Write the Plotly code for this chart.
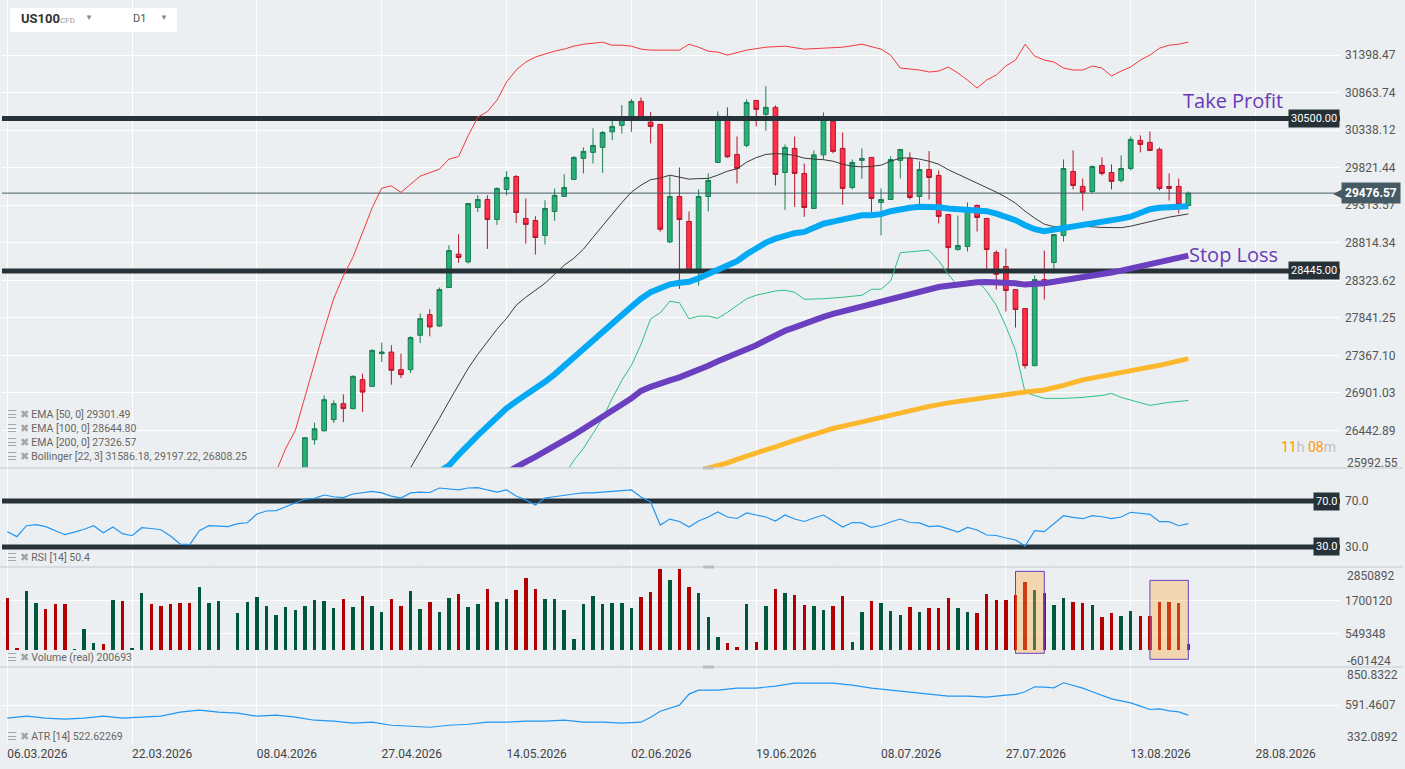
import math
import plotly.graph_objects as go
from plotly.subplots import make_subplots

# ---- values (x = bar slot, 0 = first bar) ----
date_labels = ["06.03.2026", "22.03.2026", "08.04.2026", "27.04.2026", "14.05.2026", "02.06.2026",
               "19.06.2026", "08.07.2026", "27.07.2026", "13.08.2026", "28.08.2026"]
date_slots = [0, 13, 26, 39, 52, 65, 78, 91, 104, 117, 130]
month_slots = [21, 43, 64, 86, 109]

price_ticks = [31398.47, 30863.74, 30338.12, 29821.44, 29313.57, 28814.34,
               28323.62, 27841.25, 27367.10, 26901.03, 26442.89]
price_bottom = 25992.55
price_top = 32200
rsi_levels = [70, 30]
vol_ticks = [1700120, 549348]
vol_range = [-601424, 2850892]
atr_ticks = [591.4607]
atr_range = [332.0892, 850.8322]

take_profit = 30500.00
stop_loss = 28445.00

open_ = [24650, 24480, 24460, 24720, 24800, 24600, 24420, 24230, 24260, 24380,
         24420, 24370, 24610, 24420, 24440, 24720, 24520, 24340, 24160, 23990,
         23820, 24100, 24250, 24400, 24400, 24560, 24760, 24950, 25100, 25260,
         25460, 25750, 26331, 26439, 26574, 26769, 26708, 27065, 26982, 27389,
         27409, 27189, 27189, 27620, 27882, 27737, 28230, 28664, 28563, 29283,
         29391, 29123, 29526, 29702, 29137, 29110, 28910, 29230, 29432, 29662,
         29948, 30031, 30100, 30315, 30404, 30524, 30740, 30450, 30418, 28825,
         29431, 29097, 28432, 29431, 29893, 30530, 30003, 30127, 30754, 30558,
         30656, 29756, 30086, 29743, 29270, 29997, 30460, 30086, 29553, 29921,
         29962, 29350, 29391, 29921, 29948, 29431, 29797, 29716, 29190, 28725,
         28765, 29310, 29137, 28686, 28503, 28204, 27960, 27239, 28333, 28555,
         28910, 29770, 29567, 29499, 29852, 29756, 29648, 29811, 30196, 30169,
         30072, 29567, 29567, 29310]
high = [24700, 24520, 24780, 24850, 24830, 24640, 24470, 24280, 24420, 24450,
        24440, 24650, 24640, 24450, 24760, 24750, 24560, 24380, 24200, 24050,
        24150, 24300, 24450, 24410, 24600, 24800, 25000, 25150, 25300, 25500,
        25800, 26360, 26537, 26870, 26809, 26883, 27118, 27140, 27443, 27528,
        27494, 27389, 27607, 27895, 27951, 28230, 28782, 28927, 29340, 29449,
        29449, 29553, 29774, 29720, 29404, 29167, 29381, 29540, 29733, 29980,
        30100, 30362, 30328, 30516, 30688, 30773, 30796, 30590, 30420, 29710,
        29824, 29230, 29526, 29743, 30600, 30656, 30251, 30768, 30756, 30956,
        30684, 30141, 30251, 29879, 30058, 30586, 30534, 30306, 29934, 30086,
        29965, 29540, 29976, 30075, 30031, 29907, 30049, 29784, 29192, 29176,
        29350, 29323, 29140, 28716, 28738, 28206, 27962, 28385, 28712, 28925,
        29934, 30058, 29675, 29852, 29962, 29866, 29989, 30251, 30265, 30320,
        30100, 29743, 29675, 29499]
low = [24420, 24440, 24400, 24650, 24560, 24380, 24180, 24210, 24200, 24350,
       24350, 24320, 24380, 24400, 24400, 24480, 24300, 24120, 23950, 23780,
       23700, 24050, 24200, 24390, 24350, 24500, 24700, 24900, 25050, 25200,
       25400, 25700, 26271, 26430, 26533, 26544, 26700, 26666, 26975, 27284,
       27003, 27085, 27147, 27522, 27607, 27725, 28225, 28550, 28542, 29224,
       28733, 29051, 29445, 29078, 28804, 28660, 28791, 29105, 29425, 29655,
       29743, 29879, 29751, 30200, 30293, 30315, 30478, 30155, 28961, 28812,
       28212, 28415, 28255, 29230, 29885, 29956, 29607, 30100, 30390, 30328,
       29580, 29251, 29291, 29158, 29262, 29934, 30017, 29318, 29526, 29670,
       29216, 28910, 29385, 29675, 29391, 29310, 29391, 29070, 28411, 28712,
       28699, 28963, 28454, 28204, 27921, 27717, 27202, 27230, 28075, 28411,
       28830, 29526, 29243, 29472, 29716, 29526, 29621, 29784, 30031, 30055,
       29513, 29377, 29203, 29305]
close = [24480, 24460, 24720, 24800, 24600, 24420, 24230, 24260, 24380, 24420,
         24370, 24610, 24420, 24440, 24720, 24520, 24340, 24160, 23990, 23820,
         24100, 24250, 24400, 24400, 24560, 24760, 24950, 25100, 25260, 25460,
         25750, 26355, 26464, 26818, 26769, 26708, 27106, 26911, 27430, 27409,
         27181, 27127, 27591, 27831, 27725, 28204, 28712, 28621, 29337, 29391,
         29123, 29540, 29689, 29216, 29057, 28884, 29270, 29445, 29553, 29962,
         30045, 30127, 30306, 30390, 30516, 30740, 30502, 30390, 28993, 29431,
         29123, 28428, 29431, 29648, 30530, 29970, 29811, 30726, 30628, 30656,
         29729, 30100, 29743, 29283, 29997, 30488, 30045, 29540, 29893, 29948,
         29404, 29391, 29934, 30072, 29418, 29797, 29689, 29163, 28751, 28778,
         29283, 29150, 28725, 28402, 28191, 27947, 27239, 28333, 28281, 28922,
         29811, 29580, 29486, 29838, 29743, 29635, 29811, 30210, 30141, 30058,
         29540, 29540, 29323, 29476.57]
volume = [1780000, 55000, 2030000, 1620000, 1410000, 1570000, 1570000, 20000, 720000, 230000,
          190000, 1710000, 1690000, 50000, 1950000, 1570000, 1500000, 1570000, 1610000, 1610000,
          2160000, 1610000, 1680000, 0, 1260000, 1640000, 1820000, 1500000, 1190000, 1470000,
          1370000, 1500000, 1710000, 1680000, 1440000, 1750000, 1470000, 1850000, 1500000, 1300000,
          1750000, 1500000, 2020000, 1400000, 1640000, 1300000, 1780000, 1920000, 1470000, 1570000,
          2090000, 1640000, 1750000, 2060000, 2470000, 2090000, 1750000, 1750000, 1370000, 370000,
          1570000, 1850000, 1570000, 1610000, 1610000, 1440000, 1820000, 1990000, 2780000, 2400000,
          2780000, 2160000, 1950000, 1120000, 430000, 230000, 90000, 1570000, 260000, 1500000,
          2090000, 1950000, 1880000, 1540000, 1500000, 1370000, 1500000, 1850000, 260000, 1300000,
          1680000, 1610000, 1330000, 1190000, 1470000, 1300000, 1440000, 1440000, 1780000, 1440000,
          1300000, 1260000, 1920000, 1710000, 1710000, 1880000, 2330000, 2060000, 1950000, 1540000,
          1780000, 1640000, 1610000, 1540000, 1120000, 1260000, 1160000, 1330000, 1160000, 1160000,
          1640000, 1640000, 1610000, 200693]
slots = list(range(len(close)))

bb_up_x = list(range(28, 68)) + [70, 71, 72, 73, 74, 75, 77, 79, 81, 83, 85, 87, 89, 91] + list(range(92, 124))
bb_up = [25950, 26227, 26443, 26864, 27275, 27692, 28088, 28382, 28624, 28954,
         29280, 29544, 29575, 29486, 29598, 29706, 29754, 29801, 29939, 29973,
         30262, 30520, 30597, 30758, 31014, 31185, 31299, 31370, 31413, 31455,
         31484, 31527, 31555, 31570, 31584, 31541, 31541, 31527, 31484, 31470,
         31470, 31555, 31512, 31455, 31441, 31398,
         31470, 31512, 31527, 31484, 31498, 31512, 31555, 31484,
         31398, 31213, 31199, 31185, 31156, 31170, 31227, 31142, 31042, 30928,
         31042, 31113, 31242, 31327, 31555, 31384, 31327, 31299, 31213, 31185,
         31185, 31242, 31213, 31099, 31170, 31227, 31327, 31398, 31498, 31541,
         31555, 31586.18]
bb_mid_x = list(range(41, 111)) + [112, 114, 116, 117, 119, 121, 123]
bb_mid = [25800, 25993, 26191, 26389, 26589, 26797, 27007, 27205, 27380, 27544,
          27697, 27835, 28002, 28105, 28195, 28285, 28402, 28520, 28611, 28729,
          28886, 29034, 29194, 29348, 29490, 29584, 29659, 29679, 29720, 29693,
          29666, 29673, 29675, 29720, 29774, 29805, 29897, 29959, 30003, 30014,
          30007, 29989, 29952, 29939, 29931, 29910, 29869, 29842, 29832, 29839,
          29856, 29910, 29952, 29956, 29939, 29910, 29869, 29794, 29733, 29672,
          29618, 29557, 29490, 29422, 29341, 29234, 29141, 29061, 29028, 29017,
          29034, 29017, 29014, 29034, 29094, 29154, 29197.22]
bb_low_x = list(range(58, 79)) + [80, 81, 82, 83, 85, 87] + list(range(89, 109)) + [110, 112, 114, 115, 116, 118, 119, 121, 123]
bb_low = [25900, 26083, 26227, 26407, 26589, 26834, 27056, 27243, 27506, 27828,
          27905, 28054, 28034, 27828, 27863, 27863, 27835, 27912, 28002, 28086,
          28131,
          28186, 28195, 28169, 28079, 28086, 28105,
          28131, 28208, 28208, 28315, 28683, 28696, 28707, 28716, 28579, 28402,
          28247, 28279, 28324, 28182, 28002, 27734, 27430, 26907, 26870, 26834,
          26834, 26846, 26870, 26895, 26846, 26785, 26748, 26785, 26808.25]
ema50_x = [44] + list(range(46, 124))
ema50 = [25880, 26023, 26149, 26275, 26383, 26492, 26602, 26712, 26797, 26870,
         26951, 27038, 27131, 27237, 27342, 27456, 27570, 27671, 27765, 27873,
         27982, 28086, 28169, 28221, 28272, 28291, 28304, 28350, 28409, 28461,
         28514, 28572, 28664, 28742, 28817, 28868, 28905, 28941, 28958, 29007,
         29067, 29094, 29123, 29154, 29180, 29180, 29194, 29234, 29267, 29280,
         29294, 29300, 29287, 29270, 29260, 29254, 29247, 29234, 29200, 29160,
         29114, 29047, 28994, 28967, 28987, 29007, 29021, 29034, 29054, 29087,
         29107, 29134, 29160, 29214, 29260, 29280, 29283, 29290, 29301.49]
ema100_x = list(range(52, 124))
ema100 = [25940, 26011, 26065, 26125, 26185, 26251, 26323, 26389, 26467, 26540,
          26608, 26687, 26760, 26834, 26926, 26976, 27026, 27056, 27094, 27137,
          27187, 27237, 27293, 27342, 27380, 27437, 27494, 27557, 27620, 27677,
          27721, 27772, 27810, 27854, 27893, 27925, 27957, 27989, 28015, 28047,
          28086, 28124, 28156, 28182, 28208, 28237, 28253, 28272, 28285, 28298,
          28302, 28302, 28302, 28285, 28268, 28272, 28285, 28304, 28321, 28341,
          28363, 28380, 28402, 28426, 28449, 28476, 28507, 28538, 28560, 28585,
          28612, 28644.80]
ema200_x = [72, 73, 74, 75, 76, 77, 78, 79, 80, 81, 82, 84, 86, 88, 90, 92, 94, 96, 98,
            100, 102, 104, 106, 108, 109, 110, 112, 114, 116, 118, 120, 122, 123]
ema200 = [25960, 25987, 26011, 26053, 26095, 26137, 26173, 26209, 26245, 26287, 26323,
          26395, 26467, 26520, 26577, 26632, 26687, 26736, 26779, 26815, 26852, 26883,
          26913, 26938, 26963, 26994, 27062, 27112, 27156, 27199, 27243, 27293, 27326.57]
rsi = [43.3, 39.0, 48.5, 49.4, 47.7, 44.3, 40.7, 43.0, 45.4, 48.5,
       42.4, 47.4, 41.6, 39.8, 46.8, 46.1, 45.0, 39.6, 32.6, 32.0,
       44.2, 48.5, 48.3, 47.7, 50.3, 51.1, 58.7, 61.3, 61.6, 65.0,
       68.5, 71.7, 72.3, 75.2, 73.7, 72.9, 76.1, 77.0, 78.3, 77.0,
       74.3, 72.6, 77.0, 77.8, 77.4, 81.3, 80.4, 79.6, 81.3, 81.7,
       79.6, 77.8, 79.6, 74.3, 70.9, 66.5, 72.6, 73.9, 75.2, 76.1,
       77.0, 77.0, 77.8, 78.3, 79.1, 79.6, 73.5, 69.1, 49.1, 54.3,
       52.2, 47.4, 52.6, 56.1, 60.4, 56.1, 54.8, 59.6, 57.8, 56.1,
       52.6, 57.8, 54.3, 52.2, 55.2, 57.8, 52.6, 47.4, 51.3, 50.9,
       47.0, 48.7, 51.7, 54.3, 51.3, 50.9, 47.8, 48.3, 45.7, 43.0,
       47.0, 44.8, 40.4, 40.0, 37.8, 36.1, 30.9, 44.2, 43.3, 50.6,
       57.2, 55.7, 54.6, 57.2, 56.3, 54.6, 56.1, 60.2, 59.3, 58.4,
       52.0, 52.0, 48.5, 50.4]
atr_x = list(range(0, 67, 2)) + [67, 68, 69, 70, 71, 72] + list(range(74, 105, 2)) + \
        [105, 106, 107, 108, 109, 110] + list(range(112, 124))
atr = [501.3, 515.0, 501.3, 494.5, 501.3, 515.0, 501.3, 508.2, 515.0, 542.4,
       556.1, 542.4, 535.6, 515.0, 521.9, 508.2, 487.6, 480.8, 467.1, 473.9,
       453.4, 446.5, 439.7, 453.4, 460.2, 473.9, 473.9, 480.8, 480.8, 487.6,
       473.9, 473.9, 467.1, 473.9,
       508.2, 549.3, 569.8, 590.4, 665.8, 693.2,
       693.2, 706.9, 706.9, 720.6, 741.2, 741.2, 741.2, 727.5, 706.9, 693.2,
       679.5, 665.8, 652.1, 652.1, 645.2, 658.9,
       663.7, 681.6, 715.8, 713.8, 709.0, 743.2,
       706.9, 681.6, 658.9, 633.6, 619.9, 606.2, 583.6, 560.9, 565.1, 551.4, 544.5, 522.62269]

# highlighted volume clusters: slot from, slot to, volume low, volume high
vol_boxes = [(105, 108, -128000, 2700000), (119, 123, -335000, 2390000)]

# ---- page geometry ----
W, H = 1405, 769
ML, MR, MT, MB = 2, 65, 0, 26
PW, PH = W - ML - MR, H - MT - MB


def px(x):
    return (x - ML) / PW


def py(y):
    return (PH + MT - y) / PH


FONT = "Roboto"
fig = make_subplots(rows=4, cols=1, shared_xaxes=True, vertical_spacing=0,
                    row_heights=[468 / 743, 99 / 743, 100 / 743, 76 / 743])

fig.add_trace(go.Candlestick(
    x=slots, open=open_, high=high, low=low, close=close, whiskerwidth=0,
    increasing=dict(line=dict(color="#1b7d52", width=1), fillcolor="#27b077"),
    decreasing=dict(line=dict(color="#b3172b", width=1), fillcolor="#ff3047"),
    hoverinfo="skip", showlegend=False), row=1, col=1)

for lvl in (take_profit, stop_loss):
    fig.add_trace(go.Scatter(x=[-2, 145], y=[lvl, lvl], mode="lines",
                             line=dict(color="#263238", width=5), hoverinfo="skip",
                             showlegend=False), row=1, col=1)
fig.add_trace(go.Scatter(x=[-2, 145], y=[close[-1], close[-1]], mode="lines",
                         line=dict(color="#455a64", width=1), hoverinfo="skip",
                         showlegend=False), row=1, col=1)

for xs, ys, col, w in [(bb_up_x, bb_up, "#f0393c", 1), (bb_mid_x, bb_mid, "#3a3a3a", 1),
                       (bb_low_x, bb_low, "#2fbf85", 1), (ema200_x, ema200, "#fbb82c", 5),
                       (ema100_x, ema100, "#6a3fc0", 6), (ema50_x, ema50, "#03a9f4", 6)]:
    fig.add_trace(go.Scatter(x=xs, y=ys, mode="lines", line=dict(color=col, width=w),
                             hoverinfo="skip", showlegend=False), row=1, col=1)

# RSI
for lvl in rsi_levels:
    fig.add_trace(go.Scatter(x=[-2, 145], y=[lvl, lvl], mode="lines",
                             line=dict(color="#263238", width=5), hoverinfo="skip",
                             showlegend=False), row=2, col=1)
fig.add_trace(go.Scatter(x=slots, y=rsi, mode="lines", line=dict(color="#2196f3", width=1.2),
                         hoverinfo="skip", showlegend=False), row=2, col=1)

# Volume
vol_colors = ["#00573b" if c >= o else "#b20000" for o, c in zip(open_, close)]
fig.add_trace(go.Bar(x=slots, y=volume, marker=dict(color=vol_colors, line=dict(width=0)),
                     width=0.36, hoverinfo="skip", showlegend=False), row=3, col=1)

# ATR
fig.add_trace(go.Scatter(x=atr_x, y=atr, mode="lines", line=dict(color="#2196f3", width=1.2),
                         hoverinfo="skip", showlegend=False), row=4, col=1)

shapes = []
for s in month_slots:
    shapes.append(dict(type="line", xref="x", yref="paper", x0=s, x1=s, y0=0, y1=1,
                       line=dict(color="#f3e8e2", width=1), layer="below"))
for x0, x1, y0, y1 in vol_boxes:
    shapes.append(dict(type="rect", xref="x3", yref="y3", x0=x0, x1=x1, y0=y0, y1=y1,
                       fillcolor="rgba(255,168,55,0.35)", line=dict(color="#6a3fc4", width=1),
                       layer="above"))
for yy in (468, 567, 667):
    shapes.append(dict(type="line", xref="paper", yref="paper", x0=px(0), x1=px(1403),
                       y0=py(yy), y1=py(yy), line=dict(color="#d3d6d9", width=1.5)))
    shapes.append(dict(type="rect", xref="paper", yref="paper", x0=px(703), x1=px(714),
                       y0=py(yy + 1.5), y1=py(yy - 1.5), fillcolor="#bcbcbc", line=dict(width=0)))
shapes.append(dict(type="rect", xref="paper", yref="paper", x0=px(10), x1=px(177),
                   y0=py(32), y1=py(8), fillcolor="white", line=dict(width=0), layer="above"))

ann = []


def note(text, x, y, size=11, color="#666", xanchor="left", family=FONT, **kw):
    ann.append(dict(text=text, x=x, y=y, xref=kw.pop("xref", "paper"), yref=kw.pop("yref", "paper"),
                    xanchor=xanchor, yanchor=kw.pop("yanchor", "middle"), showarrow=False,
                    font=dict(family=family, size=size, color=color), **kw))


# header box
note("<b>US100</b>", px(19), py(19), size=13, color="#333")
note("CFD", px(58), py(20), size=8, color="#9a9a9a")
note("▼", px(83), py(18), size=8, color="#8a8a8a")
note("D1", px(131), py(19), size=11, color="#555")
note("▼", px(158), py(18), size=8, color="#8a8a8a")

icons = "<span style='color:#a5a5a5'>☰ ✖</span> "
note(icons + f"EMA [50, 0] {ema50[-1]:.2f}", px(5), py(414), size=10.5)
note(icons + f"EMA [100, 0] {ema100[-1]:.2f}", px(5), py(428), size=10.5)
note(icons + f"EMA [200, 0] {ema200[-1]:.2f}", px(5), py(442), size=10.5)
note(icons + f"Bollinger [22, 3] {bb_up[-1]:.2f}, {bb_mid[-1]:.2f}, {bb_low[-1]:.2f}", px(5), py(456),
     size=10.5)
note(icons + f"RSI [14] {rsi[-1]}", px(5), py(557), size=10.5)
note(icons + f"Volume (real) {volume[-1]}", px(5), py(657), size=10.5)
note(icons + f"ATR [14] {atr[-1]}", px(5), py(736), size=10.5)

# edge tick labels
note(f"{price_bottom:.2f}", px(1345), py(463), size=12, color="#555")
note(str(vol_range[1]), px(1345), py(576), size=12, color="#555")
note(str(vol_range[0]), px(1345), py(661), size=12, color="#555")
note(f"{atr_range[1]:.4f}", px(1345), py(675), size=12, color="#555")
note(f"{atr_range[0]:.4f}", px(1345), py(737), size=12, color="#555")

# level tags
for lvl in (take_profit, stop_loss):
    note(f"{lvl:.2f}", 1.0, math.log10(lvl), size=11, color="white", xanchor="right",
         yref="y", bgcolor="#263238", borderpad=2)
for lvl in rsi_levels:
    note(f"{lvl:.1f}", 1.0, lvl, size=11, color="white", xanchor="right",
         yref="y2", bgcolor="#263238", borderpad=2)
note("◀", px(1331), math.log10(close[-1]), size=15, color="#455a64", yref="y")
note(f"<b>{close[-1]:.2f}</b>", px(1341), math.log10(close[-1]), size=12, color="white",
     yref="y", bgcolor="#455a64", borderpad=3)

note("Take Profit", px(1181), py(100), size=20, color="#673ab7", family="Open Sans")
note("Stop Loss", px(1187), py(255), size=20, color="#673ab7", family="Open Sans")
note("<span style='color:#ff9800'>11</span><span style='color:#bdbdbd'>h</span> "
     "<span style='color:#ff9800'>08</span><span style='color:#bdbdbd'>m</span>",
     px(1338), py(447), size=14, xanchor="right")

fig.update_xaxes(range=[-0.55, -0.55 + PW / 9.602], tickvals=date_slots, ticktext=date_labels,
                 showgrid=True, gridcolor="white", gridwidth=1, zeroline=False, showline=False,
                 ticks="", tickfont=dict(family=FONT, size=12, color="#444"),
                 ticklabelshift=30, ticklabelstandoff=2, fixedrange=True)
fig.update_xaxes(rangeslider_visible=False, row=1, col=1)

axis_common = dict(side="right", ticks="", zeroline=False, showline=False,
                   tickfont=dict(family=FONT, size=12, color="#555"),
                   ticklabelstandoff=4, fixedrange=True)
fig.update_yaxes(type="log", range=[math.log10(price_bottom), math.log10(price_top)],
                 tickvals=price_ticks, ticktext=[f"{v:.2f}" for v in price_ticks],
                 gridcolor="white", row=1, col=1, **axis_common)
fig.update_yaxes(range=[12.6, 98.7], tickvals=rsi_levels, ticktext=[f"{v:.1f}" for v in rsi_levels],
                 showgrid=False, row=2, col=1, **axis_common)
fig.update_yaxes(range=vol_range, tickvals=vol_ticks, ticktext=[str(v) for v in vol_ticks],
                 gridcolor="white", row=3, col=1, **axis_common)
fig.update_yaxes(range=atr_range, tickvals=atr_ticks, ticktext=[f"{v:.4f}" for v in atr_ticks],
                 gridcolor="white", row=4, col=1, **axis_common)

fig.update_layout(width=W, height=H, margin=dict(l=ML, r=MR, t=MT, b=MB),
                  paper_bgcolor="#eceff1", plot_bgcolor="#eceff1",
                  font=dict(family=FONT, color="#555"), bargap=0,
                  shapes=shapes, annotations=ann, showlegend=False)

fig.write_html("out.html", config={"displayModeBar": False},
               post_script="document.body.style.margin='0';document.body.style.background='#eceff1';")
